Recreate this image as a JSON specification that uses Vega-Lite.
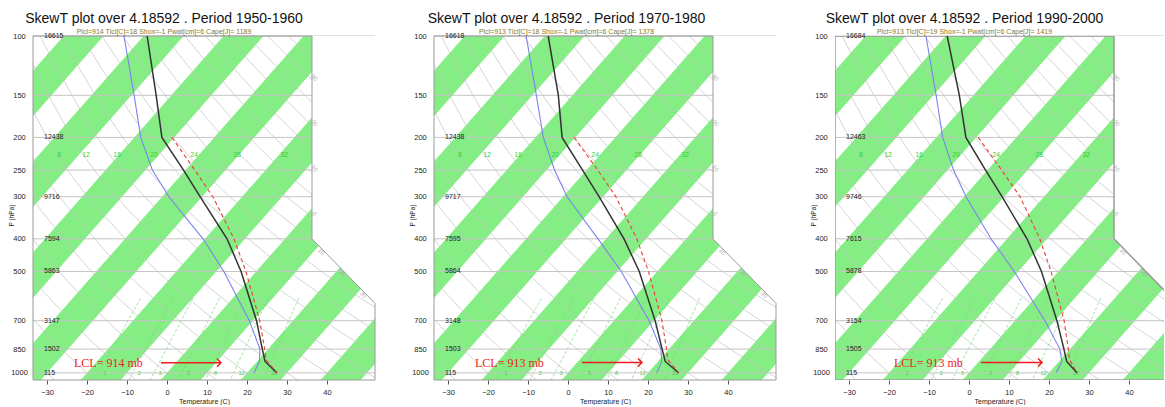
{
  "$schema": "https://vega.github.io/schema/vega-lite/v6.json",
  "autosize": {"type": "pad"},
  "padding": {"left": 8, "top": 12, "right": 0, "bottom": 0},
  "bounds": "flush",
  "spacing": 59,
  "config": {
    "font": "Liberation Sans",
    "view": {"stroke": null},
    "axisX": {"tickSize": 4, "tickColor": "#555", "labelFontSize": 7.5, "labelColor": "#222", "labelPadding": 4, "titleFontSize": 7, "titleFontWeight": "normal", "titleColor": "#222", "titlePadding": 2, "domain": false, "grid": false, "labelFlush": false},
    "axisY": {"ticks": false, "tickSize": 0, "labelAlign": "center", "labelBaseline": "middle", "labelPadding": 14, "labelFontSize": 7.5, "labelColor": "#222", "titleFontSize": 6.5, "titleFontWeight": "normal", "titleColor": "#222", "domain": false, "grid": false, "labelOverlap": false},
    "title": {"fontSize": 14, "fontWeight": "normal", "color": "#111", "anchor": "middle", "offset": -3, "subtitleFontSize": 7, "subtitleColor": "#8a7a1e", "subtitlePadding": 2, "subtitleFont": "Liberation Sans"}
  },
  "datasets": {
    "bands": [
      {"t1": -100, "t2": -90, "p": 100}, {"t1": -100, "t2": -90, "p": 1050},
      {"t1": -80, "t2": -70, "p": 100}, {"t1": -80, "t2": -70, "p": 1050},
      {"t1": -60, "t2": -50, "p": 100}, {"t1": -60, "t2": -50, "p": 1050},
      {"t1": -40, "t2": -30, "p": 100}, {"t1": -40, "t2": -30, "p": 1050},
      {"t1": -20, "t2": -10, "p": 100}, {"t1": -20, "t2": -10, "p": 1050},
      {"t1": 0, "t2": 10, "p": 100}, {"t1": 0, "t2": 10, "p": 1050},
      {"t1": 20, "t2": 30, "p": 100}, {"t1": 20, "t2": 30, "p": 1050},
      {"t1": 40, "t2": 50, "p": 100}, {"t1": 40, "t2": 50, "p": 1050}
    ],
    "dry": [
      {"th": -30, "p": 1050, "t": -26.6}, {"th": -30, "p": 700, "t": -53.6}, {"th": -30, "p": 400, "t": -86.1}, {"th": -30, "p": 200, "t": -119.7}, {"th": -30, "p": 100, "t": -147.3},
      {"th": -20, "p": 1050, "t": -16.5}, {"th": -20, "p": 700, "t": -44.6}, {"th": -20, "p": 400, "t": -78.4}, {"th": -20, "p": 200, "t": -113.4}, {"th": -20, "p": 100, "t": -142.1},
      {"th": -10, "p": 1050, "t": -6.3}, {"th": -10, "p": 700, "t": -35.5}, {"th": -10, "p": 400, "t": -70.7}, {"th": -10, "p": 200, "t": -107.1}, {"th": -10, "p": 100, "t": -136.9},
      {"th": 0, "p": 1050, "t": 3.8}, {"th": 0, "p": 700, "t": -26.5}, {"th": 0, "p": 400, "t": -63.0}, {"th": 0, "p": 200, "t": -100.8}, {"th": 0, "p": 100, "t": -131.8},
      {"th": 10, "p": 1050, "t": 14.0}, {"th": 10, "p": 700, "t": -17.5}, {"th": 10, "p": 400, "t": -55.3}, {"th": 10, "p": 200, "t": -94.5}, {"th": 10, "p": 100, "t": -126.6},
      {"th": 20, "p": 1050, "t": 24.1}, {"th": 20, "p": 700, "t": -8.4}, {"th": 20, "p": 400, "t": -47.6}, {"th": 20, "p": 200, "t": -88.1}, {"th": 20, "p": 100, "t": -121.4},
      {"th": 30, "p": 1050, "t": 34.2}, {"th": 30, "p": 700, "t": 0.6}, {"th": 30, "p": 400, "t": -39.9}, {"th": 30, "p": 200, "t": -81.8}, {"th": 30, "p": 100, "t": -116.2},
      {"th": 40, "p": 1050, "t": 44.4}, {"th": 40, "p": 700, "t": 9.6}, {"th": 40, "p": 400, "t": -32.2}, {"th": 40, "p": 200, "t": -75.5}, {"th": 40, "p": 100, "t": -111.1},
      {"th": 50, "p": 1050, "t": 54.5}, {"th": 50, "p": 700, "t": 18.7}, {"th": 50, "p": 400, "t": -24.5}, {"th": 50, "p": 200, "t": -69.2}, {"th": 50, "p": 100, "t": -105.9},
      {"th": 60, "p": 1050, "t": 64.7}, {"th": 60, "p": 700, "t": 27.7}, {"th": 60, "p": 400, "t": -16.8}, {"th": 60, "p": 200, "t": -62.9}, {"th": 60, "p": 100, "t": -100.7},
      {"th": 70, "p": 1050, "t": 74.8}, {"th": 70, "p": 700, "t": 36.7}, {"th": 70, "p": 400, "t": -9.1}, {"th": 70, "p": 200, "t": -56.6}, {"th": 70, "p": 100, "t": -95.5},
      {"th": 80, "p": 1050, "t": 84.9}, {"th": 80, "p": 700, "t": 45.7}, {"th": 80, "p": 400, "t": -1.4}, {"th": 80, "p": 200, "t": -50.3}, {"th": 80, "p": 100, "t": -90.4},
      {"th": 90, "p": 1050, "t": 95.1}, {"th": 90, "p": 700, "t": 54.8}, {"th": 90, "p": 400, "t": 6.3}, {"th": 90, "p": 200, "t": -44.0}, {"th": 90, "p": 100, "t": -85.2},
      {"th": 100, "p": 1050, "t": 105.2}, {"th": 100, "p": 700, "t": 63.8}, {"th": 100, "p": 400, "t": 14.0}, {"th": 100, "p": 200, "t": -37.7}, {"th": 100, "p": 100, "t": -80.0},
      {"th": 110, "p": 1050, "t": 115.4}, {"th": 110, "p": 700, "t": 72.8}, {"th": 110, "p": 400, "t": 21.6}, {"th": 110, "p": 200, "t": -31.3}, {"th": 110, "p": 100, "t": -74.8},
      {"th": 120, "p": 1050, "t": 125.5}, {"th": 120, "p": 700, "t": 81.9}, {"th": 120, "p": 400, "t": 29.3}, {"th": 120, "p": 200, "t": -25.0}, {"th": 120, "p": 100, "t": -69.7},
      {"th": 130, "p": 1050, "t": 135.6}, {"th": 130, "p": 700, "t": 90.9}, {"th": 130, "p": 400, "t": 37.0}, {"th": 130, "p": 200, "t": -18.7}, {"th": 130, "p": 100, "t": -64.5},
      {"th": 140, "p": 1050, "t": 145.8}, {"th": 140, "p": 700, "t": 99.9}, {"th": 140, "p": 400, "t": 44.7}, {"th": 140, "p": 200, "t": -12.4}, {"th": 140, "p": 100, "t": -59.3},
      {"th": 150, "p": 1050, "t": 155.9}, {"th": 150, "p": 700, "t": 109.0}, {"th": 150, "p": 400, "t": 52.4}, {"th": 150, "p": 200, "t": -6.1}, {"th": 150, "p": 100, "t": -54.1},
      {"th": 160, "p": 1050, "t": 166.1}, {"th": 160, "p": 700, "t": 118.0}, {"th": 160, "p": 400, "t": 60.1}, {"th": 160, "p": 200, "t": 0.2}, {"th": 160, "p": 100, "t": -49.0},
      {"th": 170, "p": 1050, "t": 176.2}, {"th": 170, "p": 700, "t": 127.0}, {"th": 170, "p": 400, "t": 67.8}, {"th": 170, "p": 200, "t": 6.5}, {"th": 170, "p": 100, "t": -43.8},
      {"th": 180, "p": 1050, "t": 186.3}, {"th": 180, "p": 700, "t": 136.0}, {"th": 180, "p": 400, "t": 75.5}, {"th": 180, "p": 200, "t": 12.8}, {"th": 180, "p": 100, "t": -38.6}
    ],
    "mix": [
      {"w": 1, "p": 1050, "t": -16.5}, {"w": 1, "p": 1000, "t": -17.1}, {"w": 1, "p": 600, "t": -23.05},
      {"w": 2, "p": 1050, "t": -7.96}, {"w": 2, "p": 1000, "t": -8.58}, {"w": 2, "p": 600, "t": -14.96},
      {"w": 3, "p": 1050, "t": -2.63}, {"w": 3, "p": 1000, "t": -3.29}, {"w": 3, "p": 600, "t": -9.95},
      {"w": 5, "p": 1050, "t": 4.41}, {"w": 5, "p": 1000, "t": 3.72}, {"w": 5, "p": 600, "t": -3.34},
      {"w": 8, "p": 1050, "t": 11.24}, {"w": 8, "p": 1000, "t": 10.51}, {"w": 8, "p": 600, "t": 3.08},
      {"w": 12, "p": 1050, "t": 17.41}, {"w": 12, "p": 1000, "t": 16.64}, {"w": 12, "p": 600, "t": 8.84},
      {"w": 20, "p": 1050, "t": 25.54}, {"w": 20, "p": 1000, "t": 24.72}, {"w": 20, "p": 600, "t": 16.45}
    ],
    "isobars": [{"p": 100}, {"p": 150}, {"p": 200}, {"p": 250}, {"p": 300}, {"p": 400}, {"p": 500}, {"p": 700}, {"p": 850}, {"p": 1000}],
    "notch": [{"xs": 36.25, "xe": 52, "p": 100}, {"xs": 36.25, "xe": 52, "p": 400}, {"xs": 52, "xe": 52, "p": 622}],
    "outline": [
      {"o": 0, "xs": -33.5, "p": 1050}, {"o": 1, "xs": -33.5, "p": 100}, {"o": 2, "xs": 36.25, "p": 100}, {"o": 3, "xs": 36.25, "p": 400},
      {"o": 4, "xs": 52, "p": 622}, {"o": 5, "xs": 52, "p": 1050}, {"o": 6, "xs": -33.5, "p": 1050}
    ],
    "moistlab": [
      {"lab": "8", "t": -75, "p": 225}, {"lab": "12", "t": -68.25, "p": 225}, {"lab": "16", "t": -60.5, "p": 225}, {"lab": "20", "t": -51.25, "p": 225},
      {"lab": "24", "t": -41.25, "p": 225}, {"lab": "28", "t": -30.5, "p": 225}, {"lab": "32", "t": -18.75, "p": 225}
    ],
    "isolab": [
      {"lab": "30", "t": -30, "p": 127.8}, {"lab": "20", "t": -20, "p": 174.3}, {"lab": "10", "t": -10, "p": 237.8}, {"lab": "0", "t": 0, "p": 324.4},
      {"lab": "10", "t": 10, "p": 419.6}, {"lab": "20", "t": 20, "p": 486}, {"lab": "30", "t": 30, "p": 563.4}
    ],
    "hgt": [
      {"pn": 1, "p": 100, "h": "16615"}, {"pn": 1, "p": 200, "h": "12438"}, {"pn": 1, "p": 300, "h": "9716"}, {"pn": 1, "p": 400, "h": "7594"},
      {"pn": 1, "p": 500, "h": "5863"}, {"pn": 1, "p": 700, "h": "3147"}, {"pn": 1, "p": 850, "h": "1502"}, {"pn": 1, "p": 1000, "h": "115"},
      {"pn": 2, "p": 100, "h": "16618"}, {"pn": 2, "p": 200, "h": "12438"}, {"pn": 2, "p": 300, "h": "9717"}, {"pn": 2, "p": 400, "h": "7595"},
      {"pn": 2, "p": 500, "h": "5864"}, {"pn": 2, "p": 700, "h": "3148"}, {"pn": 2, "p": 850, "h": "1503"}, {"pn": 2, "p": 1000, "h": "115"},
      {"pn": 3, "p": 100, "h": "16684"}, {"pn": 3, "p": 200, "h": "12463"}, {"pn": 3, "p": 300, "h": "9746"}, {"pn": 3, "p": 400, "h": "7615"},
      {"pn": 3, "p": 500, "h": "5878"}, {"pn": 3, "p": 700, "h": "3154"}, {"pn": 3, "p": 850, "h": "1505"}, {"pn": 3, "p": 1000, "h": "115"}
    ],
    "lcl": [
      {"pn": 1, "p": 914, "lab": "LCL= 914 mb"},
      {"pn": 2, "p": 913, "lab": "LCL= 913 mb"},
      {"pn": 3, "p": 913, "lab": "LCL= 913 mb"}
    ],
    "snd": [
      {"pn": 1, "k": "T", "p": 100, "t": -79.1}, {"pn": 1, "k": "T", "p": 150, "t": -63.8}, {"pn": 1, "k": "T", "p": 200, "t": -53.1}, {"pn": 1, "k": "T", "p": 250, "t": -40.5},
      {"pn": 1, "k": "T", "p": 300, "t": -30.5}, {"pn": 1, "k": "T", "p": 400, "t": -14.5}, {"pn": 1, "k": "T", "p": 500, "t": -3.8}, {"pn": 1, "k": "T", "p": 700, "t": 10.9},
      {"pn": 1, "k": "T", "p": 850, "t": 18.6}, {"pn": 1, "k": "T", "p": 925, "t": 22.0}, {"pn": 1, "k": "T", "p": 1000, "t": 27.5},
      {"pn": 1, "k": "Td", "p": 100, "t": -84.9}, {"pn": 1, "k": "Td", "p": 150, "t": -69.3}, {"pn": 1, "k": "Td", "p": 200, "t": -58.4}, {"pn": 1, "k": "Td", "p": 250, "t": -48.3},
      {"pn": 1, "k": "Td", "p": 300, "t": -38.3}, {"pn": 1, "k": "Td", "p": 400, "t": -20.5}, {"pn": 1, "k": "Td", "p": 500, "t": -8.1}, {"pn": 1, "k": "Td", "p": 700, "t": 9.1},
      {"pn": 1, "k": "Td", "p": 850, "t": 18.0}, {"pn": 1, "k": "Td", "p": 925, "t": 20.6}, {"pn": 1, "k": "Td", "p": 1000, "t": 21.75},
      {"pn": 1, "k": "Tp", "p": 1000, "t": 27.5}, {"pn": 1, "k": "Tp", "p": 914, "t": 21.85}, {"pn": 1, "k": "Tp", "p": 850, "t": 19.2}, {"pn": 1, "k": "Tp", "p": 700, "t": 11.7},
      {"pn": 1, "k": "Tp", "p": 500, "t": -2.6}, {"pn": 1, "k": "Tp", "p": 400, "t": -12.75}, {"pn": 1, "k": "Tp", "p": 300, "t": -27.3}, {"pn": 1, "k": "Tp", "p": 250, "t": -37.7},
      {"pn": 1, "k": "Tp", "p": 200, "t": -50.6},
      {"pn": 2, "k": "T", "p": 100, "t": -79.1}, {"pn": 2, "k": "T", "p": 150, "t": -63.5}, {"pn": 2, "k": "T", "p": 200, "t": -53.3}, {"pn": 2, "k": "T", "p": 250, "t": -41.0},
      {"pn": 2, "k": "T", "p": 300, "t": -31.0}, {"pn": 2, "k": "T", "p": 400, "t": -15.5}, {"pn": 2, "k": "T", "p": 500, "t": -4.5}, {"pn": 2, "k": "T", "p": 700, "t": 10.3},
      {"pn": 2, "k": "T", "p": 850, "t": 18.3}, {"pn": 2, "k": "T", "p": 925, "t": 21.8}, {"pn": 2, "k": "T", "p": 1000, "t": 27.7},
      {"pn": 2, "k": "Td", "p": 100, "t": -84.6}, {"pn": 2, "k": "Td", "p": 150, "t": -69.0}, {"pn": 2, "k": "Td", "p": 200, "t": -58.0}, {"pn": 2, "k": "Td", "p": 250, "t": -48.0},
      {"pn": 2, "k": "Td", "p": 300, "t": -39.0}, {"pn": 2, "k": "Td", "p": 400, "t": -22.0}, {"pn": 2, "k": "Td", "p": 500, "t": -9.0}, {"pn": 2, "k": "Td", "p": 700, "t": 8.8},
      {"pn": 2, "k": "Td", "p": 850, "t": 18.0}, {"pn": 2, "k": "Td", "p": 925, "t": 20.9}, {"pn": 2, "k": "Td", "p": 1000, "t": 22.2},
      {"pn": 2, "k": "Tp", "p": 1000, "t": 27.7}, {"pn": 2, "k": "Tp", "p": 913, "t": 22.0}, {"pn": 2, "k": "Tp", "p": 850, "t": 19.4}, {"pn": 2, "k": "Tp", "p": 700, "t": 12.0},
      {"pn": 2, "k": "Tp", "p": 500, "t": -2.2}, {"pn": 2, "k": "Tp", "p": 400, "t": -12.3}, {"pn": 2, "k": "Tp", "p": 300, "t": -26.8}, {"pn": 2, "k": "Tp", "p": 250, "t": -37.2},
      {"pn": 2, "k": "Tp", "p": 200, "t": -50.3},
      {"pn": 3, "k": "T", "p": 100, "t": -79.6}, {"pn": 3, "k": "T", "p": 150, "t": -63.5}, {"pn": 3, "k": "T", "p": 200, "t": -52.6}, {"pn": 3, "k": "T", "p": 250, "t": -40.5},
      {"pn": 3, "k": "T", "p": 300, "t": -30.5}, {"pn": 3, "k": "T", "p": 400, "t": -15.0}, {"pn": 3, "k": "T", "p": 500, "t": -4.2}, {"pn": 3, "k": "T", "p": 700, "t": 10.5},
      {"pn": 3, "k": "T", "p": 850, "t": 18.5}, {"pn": 3, "k": "T", "p": 925, "t": 21.9}, {"pn": 3, "k": "T", "p": 1000, "t": 27.0},
      {"pn": 3, "k": "Td", "p": 100, "t": -84.9}, {"pn": 3, "k": "Td", "p": 150, "t": -69.3}, {"pn": 3, "k": "Td", "p": 200, "t": -58.4}, {"pn": 3, "k": "Td", "p": 250, "t": -48.5},
      {"pn": 3, "k": "Td", "p": 300, "t": -39.5}, {"pn": 3, "k": "Td", "p": 400, "t": -24.0}, {"pn": 3, "k": "Td", "p": 500, "t": -11.0}, {"pn": 3, "k": "Td", "p": 700, "t": 7.5},
      {"pn": 3, "k": "Td", "p": 850, "t": 17.5}, {"pn": 3, "k": "Td", "p": 925, "t": 20.7}, {"pn": 3, "k": "Td", "p": 1000, "t": 21.8},
      {"pn": 3, "k": "Tp", "p": 1000, "t": 27.0}, {"pn": 3, "k": "Tp", "p": 913, "t": 22.2}, {"pn": 3, "k": "Tp", "p": 850, "t": 19.6}, {"pn": 3, "k": "Tp", "p": 700, "t": 12.3},
      {"pn": 3, "k": "Tp", "p": 500, "t": -1.8}, {"pn": 3, "k": "Tp", "p": 400, "t": -11.8}, {"pn": 3, "k": "Tp", "p": 300, "t": -26.0}, {"pn": 3, "k": "Tp", "p": 250, "t": -36.5},
      {"pn": 3, "k": "Tp", "p": 200, "t": -49.5}
    ]
  },
  "hconcat": [
    {
      "width": 342, "height": 344,
      "title": {"text": "SkewT plot over 4.18592 . Period 1950-1960", "subtitle": "Plcl=914 Tlcl[C]=18 Shox=-1 Pwat[cm]=6 Cape[J]= 1189", "dx": -40},
      "layer": [
        {"data": {"name": "bands"},
         "transform": [{"calculate": "datum.t1 + 32.2*log(1000/datum.p)", "as": "xs"}, {"calculate": "datum.t2 + 32.2*log(1000/datum.p)", "as": "xe"}],
         "mark": {"type": "area", "orient": "horizontal", "clip": true, "color": "#84ee84", "opacity": 1},
         "encoding": {
           "y": {"field": "p", "type": "quantitative", "scale": {"type": "log", "domain": [100, 1050], "reverse": true, "nice": false},
                 "axis": {"values": [100, 150, 200, 250, 300, 400, 500, 700, 850, 1000], "format": "d", "title": "P (hPa)", "titleX": -19, "titleY": 179, "titleAngle": -90, "titleAlign": "center", "titleBaseline": "bottom"}},
           "x": {"field": "xs", "type": "quantitative", "scale": {"domain": [-33.5, 52], "nice": false, "zero": false},
                 "axis": {"values": [-30, -20, -10, 0, 10, 20, 30, 40], "format": "d", "title": "Temperature (C)"}},
           "x2": {"field": "xe"},
           "detail": {"field": "t1"}}},
        {"data": {"name": "dry"}, "transform": [{"calculate": "datum.t + 32.2*log(1000/datum.p)", "as": "xs"}],
         "mark": {"type": "line", "clip": true, "color": "#c2c2c2", "strokeWidth": 0.7, "interpolate": "monotone"},
         "encoding": {"x": {"field": "xs", "type": "quantitative"}, "y": {"field": "p", "type": "quantitative"}, "detail": {"field": "th"}, "order": {"field": "p"}}},
        {"data": {"name": "mix"}, "transform": [{"calculate": "datum.t + 32.2*log(1000/datum.p)", "as": "xs"}],
         "mark": {"type": "line", "clip": true, "color": "#7ad87a", "strokeWidth": 0.7, "strokeDash": [3, 2]},
         "encoding": {"x": {"field": "xs", "type": "quantitative"}, "y": {"field": "p", "type": "quantitative"}, "detail": {"field": "w"}, "order": {"field": "p"}}},
        {"data": {"name": "isobars"}, "mark": {"type": "rule", "color": "#c4c4c4", "strokeWidth": 1},
         "encoding": {"y": {"field": "p", "type": "quantitative"}}},
        {"data": {"name": "notch"}, "mark": {"type": "area", "orient": "horizontal", "clip": true, "color": "white", "opacity": 1},
         "encoding": {"x": {"field": "xs", "type": "quantitative"}, "x2": {"field": "xe"}, "y": {"field": "p", "type": "quantitative"}}},
        {"data": {"name": "outline"}, "mark": {"type": "line", "clip": false, "color": "#9a9a9a", "strokeWidth": 1},
         "encoding": {"x": {"field": "xs", "type": "quantitative"}, "y": {"field": "p", "type": "quantitative"}, "order": {"field": "o"}}},
        {"data": {"name": "mix"}, "transform": [{"filter": "datum.p == 1000"}, {"calculate": "datum.t + 32.2*log(1000/datum.p)", "as": "xs"}],
         "mark": {"type": "text", "color": "#4ccc4c", "fontSize": 5.5, "dx": 5, "align": "left", "baseline": "middle"},
         "encoding": {"x": {"field": "xs", "type": "quantitative"}, "y": {"field": "p", "type": "quantitative"}, "text": {"field": "w"}}},
        {"data": {"name": "moistlab"}, "transform": [{"calculate": "datum.t + 32.2*log(1000/datum.p)", "as": "xs"}],
         "mark": {"type": "text", "color": "#33cc33", "fontSize": 6.5, "align": "center", "baseline": "middle"},
         "encoding": {"x": {"field": "xs", "type": "quantitative"}, "y": {"field": "p", "type": "quantitative"}, "text": {"field": "lab"}}},
        {"data": {"name": "isolab"}, "transform": [{"calculate": "datum.t + 32.2*log(1000/datum.p)", "as": "xs"}],
         "mark": {"type": "text", "color": "#a8a8a8", "fontSize": 6, "angle": 50, "dx": 6, "dy": 2, "align": "center", "baseline": "middle"},
         "encoding": {"x": {"field": "xs", "type": "quantitative"}, "y": {"field": "p", "type": "quantitative"}, "text": {"field": "lab"}}},
        {"data": {"name": "hgt"}, "transform": [{"filter": "datum.pn == 1"}],
         "mark": {"type": "text", "fontSize": 7, "color": "#222", "align": "left", "baseline": "middle"},
         "encoding": {"x": {"datum": -30.75, "type": "quantitative"}, "y": {"field": "p", "type": "quantitative"}, "text": {"field": "h"}}},
        {"data": {"name": "snd"}, "transform": [{"filter": "datum.pn == 1 && datum.k == 'Td'"}, {"calculate": "datum.t + 32.2*log(1000/datum.p)", "as": "xs"}],
         "mark": {"type": "line", "color": "#7d82ee", "strokeWidth": 1.1},
         "encoding": {"x": {"field": "xs", "type": "quantitative"}, "y": {"field": "p", "type": "quantitative"}, "order": {"field": "p"}}},
        {"data": {"name": "snd"}, "transform": [{"filter": "datum.pn == 1 && datum.k == 'T'"}, {"calculate": "datum.t + 32.2*log(1000/datum.p)", "as": "xs"}],
         "mark": {"type": "line", "color": "#333333", "strokeWidth": 1.5},
         "encoding": {"x": {"field": "xs", "type": "quantitative"}, "y": {"field": "p", "type": "quantitative"}, "order": {"field": "p"}}},
        {"data": {"name": "snd"}, "transform": [{"filter": "datum.pn == 1 && datum.k == 'Tp'"}, {"calculate": "datum.t + 32.2*log(1000/datum.p)", "as": "xs"}],
         "mark": {"type": "line", "color": "#e8413a", "strokeWidth": 1.1, "strokeDash": [4, 3]},
         "encoding": {"x": {"field": "xs", "type": "quantitative"}, "y": {"field": "p", "type": "quantitative"}, "order": {"field": "p"}}},
        {"data": {"name": "lcl"}, "transform": [{"filter": "datum.pn == 1"}],
         "mark": {"type": "text", "font": "Liberation Serif", "fontSize": 12, "color": "#ee1c1c", "align": "left", "baseline": "middle", "dy": 3},
         "encoding": {"x": {"datum": -23.25, "type": "quantitative"}, "y": {"field": "p", "type": "quantitative"}, "text": {"field": "lab"}}},
        {"data": {"name": "lcl"}, "transform": [{"filter": "datum.pn == 1"}],
         "mark": {"type": "rule", "color": "#ee1c1c", "strokeWidth": 1.5, "yOffset": 3},
         "encoding": {"x": {"datum": -1.5, "type": "quantitative"}, "x2": {"datum": 13.5}, "y": {"field": "p", "type": "quantitative"}}},
        {"data": {"name": "lcl"}, "transform": [{"filter": "datum.pn == 1"}],
         "mark": {"type": "point", "shape": "M -1 -1 L 0 0 L -1 1", "size": 64, "filled": false, "opacity": 1, "color": "#ee1c1c", "strokeWidth": 1.5, "yOffset": 3},
         "encoding": {"x": {"datum": 13.5, "type": "quantitative"}, "y": {"field": "p", "type": "quantitative"}}}
      ]
    },
    {
      "width": 342, "height": 344,
      "title": {"text": "SkewT plot over 4.18592 . Period 1970-1980", "subtitle": "Plcl=913 Tlcl[C]=18 Shox=-1 Pwat[cm]=6 Cape[J]= 1378", "dx": -38.5},
      "layer": [
        {"data": {"name": "bands"},
         "transform": [{"calculate": "datum.t1 + 32.2*log(1000/datum.p)", "as": "xs"}, {"calculate": "datum.t2 + 32.2*log(1000/datum.p)", "as": "xe"}],
         "mark": {"type": "area", "orient": "horizontal", "clip": true, "color": "#84ee84", "opacity": 1},
         "encoding": {
           "y": {"field": "p", "type": "quantitative", "scale": {"type": "log", "domain": [100, 1050], "reverse": true, "nice": false},
                 "axis": {"values": [100, 150, 200, 250, 300, 400, 500, 700, 850, 1000], "format": "d", "title": "P (hPa)", "titleX": -19, "titleY": 179, "titleAngle": -90, "titleAlign": "center", "titleBaseline": "bottom"}},
           "x": {"field": "xs", "type": "quantitative", "scale": {"domain": [-33.5, 52], "nice": false, "zero": false},
                 "axis": {"values": [-30, -20, -10, 0, 10, 20, 30, 40], "format": "d", "title": "Temperature (C)"}},
           "x2": {"field": "xe"},
           "detail": {"field": "t1"}}},
        {"data": {"name": "dry"}, "transform": [{"calculate": "datum.t + 32.2*log(1000/datum.p)", "as": "xs"}],
         "mark": {"type": "line", "clip": true, "color": "#c2c2c2", "strokeWidth": 0.7, "interpolate": "monotone"},
         "encoding": {"x": {"field": "xs", "type": "quantitative"}, "y": {"field": "p", "type": "quantitative"}, "detail": {"field": "th"}, "order": {"field": "p"}}},
        {"data": {"name": "mix"}, "transform": [{"calculate": "datum.t + 32.2*log(1000/datum.p)", "as": "xs"}],
         "mark": {"type": "line", "clip": true, "color": "#7ad87a", "strokeWidth": 0.7, "strokeDash": [3, 2]},
         "encoding": {"x": {"field": "xs", "type": "quantitative"}, "y": {"field": "p", "type": "quantitative"}, "detail": {"field": "w"}, "order": {"field": "p"}}},
        {"data": {"name": "isobars"}, "mark": {"type": "rule", "color": "#c4c4c4", "strokeWidth": 1},
         "encoding": {"y": {"field": "p", "type": "quantitative"}}},
        {"data": {"name": "notch"}, "mark": {"type": "area", "orient": "horizontal", "clip": true, "color": "white", "opacity": 1},
         "encoding": {"x": {"field": "xs", "type": "quantitative"}, "x2": {"field": "xe"}, "y": {"field": "p", "type": "quantitative"}}},
        {"data": {"name": "outline"}, "mark": {"type": "line", "clip": false, "color": "#9a9a9a", "strokeWidth": 1},
         "encoding": {"x": {"field": "xs", "type": "quantitative"}, "y": {"field": "p", "type": "quantitative"}, "order": {"field": "o"}}},
        {"data": {"name": "mix"}, "transform": [{"filter": "datum.p == 1000"}, {"calculate": "datum.t + 32.2*log(1000/datum.p)", "as": "xs"}],
         "mark": {"type": "text", "color": "#4ccc4c", "fontSize": 5.5, "dx": 5, "align": "left", "baseline": "middle"},
         "encoding": {"x": {"field": "xs", "type": "quantitative"}, "y": {"field": "p", "type": "quantitative"}, "text": {"field": "w"}}},
        {"data": {"name": "moistlab"}, "transform": [{"calculate": "datum.t + 32.2*log(1000/datum.p)", "as": "xs"}],
         "mark": {"type": "text", "color": "#33cc33", "fontSize": 6.5, "align": "center", "baseline": "middle"},
         "encoding": {"x": {"field": "xs", "type": "quantitative"}, "y": {"field": "p", "type": "quantitative"}, "text": {"field": "lab"}}},
        {"data": {"name": "isolab"}, "transform": [{"calculate": "datum.t + 32.2*log(1000/datum.p)", "as": "xs"}],
         "mark": {"type": "text", "color": "#a8a8a8", "fontSize": 6, "angle": 50, "dx": 6, "dy": 2, "align": "center", "baseline": "middle"},
         "encoding": {"x": {"field": "xs", "type": "quantitative"}, "y": {"field": "p", "type": "quantitative"}, "text": {"field": "lab"}}},
        {"data": {"name": "hgt"}, "transform": [{"filter": "datum.pn == 2"}],
         "mark": {"type": "text", "fontSize": 7, "color": "#222", "align": "left", "baseline": "middle"},
         "encoding": {"x": {"datum": -30.75, "type": "quantitative"}, "y": {"field": "p", "type": "quantitative"}, "text": {"field": "h"}}},
        {"data": {"name": "snd"}, "transform": [{"filter": "datum.pn == 2 && datum.k == 'Td'"}, {"calculate": "datum.t + 32.2*log(1000/datum.p)", "as": "xs"}],
         "mark": {"type": "line", "color": "#7d82ee", "strokeWidth": 1.1},
         "encoding": {"x": {"field": "xs", "type": "quantitative"}, "y": {"field": "p", "type": "quantitative"}, "order": {"field": "p"}}},
        {"data": {"name": "snd"}, "transform": [{"filter": "datum.pn == 2 && datum.k == 'T'"}, {"calculate": "datum.t + 32.2*log(1000/datum.p)", "as": "xs"}],
         "mark": {"type": "line", "color": "#333333", "strokeWidth": 1.5},
         "encoding": {"x": {"field": "xs", "type": "quantitative"}, "y": {"field": "p", "type": "quantitative"}, "order": {"field": "p"}}},
        {"data": {"name": "snd"}, "transform": [{"filter": "datum.pn == 2 && datum.k == 'Tp'"}, {"calculate": "datum.t + 32.2*log(1000/datum.p)", "as": "xs"}],
         "mark": {"type": "line", "color": "#e8413a", "strokeWidth": 1.1, "strokeDash": [4, 3]},
         "encoding": {"x": {"field": "xs", "type": "quantitative"}, "y": {"field": "p", "type": "quantitative"}, "order": {"field": "p"}}},
        {"data": {"name": "lcl"}, "transform": [{"filter": "datum.pn == 2"}],
         "mark": {"type": "text", "font": "Liberation Serif", "fontSize": 12, "color": "#ee1c1c", "align": "left", "baseline": "middle", "dy": 3},
         "encoding": {"x": {"datum": -23.25, "type": "quantitative"}, "y": {"field": "p", "type": "quantitative"}, "text": {"field": "lab"}}},
        {"data": {"name": "lcl"}, "transform": [{"filter": "datum.pn == 2"}],
         "mark": {"type": "rule", "color": "#ee1c1c", "strokeWidth": 1.5, "yOffset": 3},
         "encoding": {"x": {"datum": 3.5, "type": "quantitative"}, "x2": {"datum": 18.5}, "y": {"field": "p", "type": "quantitative"}}},
        {"data": {"name": "lcl"}, "transform": [{"filter": "datum.pn == 2"}],
         "mark": {"type": "point", "shape": "M -1 -1 L 0 0 L -1 1", "size": 64, "filled": false, "opacity": 1, "color": "#ee1c1c", "strokeWidth": 1.5, "yOffset": 3},
         "encoding": {"x": {"datum": 18.5, "type": "quantitative"}, "y": {"field": "p", "type": "quantitative"}}}
      ]
    },
    {
      "width": 329, "height": 344,
      "title": {"text": "SkewT plot over 4.18592 . Period 1990-2000", "subtitle": "Plcl=913 Tlcl[C]=19 Shox=-1 Pwat[cm]=6 Cape[J]= 1419", "dx": -35},
      "layer": [
        {"data": {"name": "bands"},
         "transform": [{"calculate": "datum.t1 + 32.2*log(1000/datum.p)", "as": "xs"}, {"calculate": "datum.t2 + 32.2*log(1000/datum.p)", "as": "xe"}],
         "mark": {"type": "area", "orient": "horizontal", "clip": true, "color": "#84ee84", "opacity": 1},
         "encoding": {
           "y": {"field": "p", "type": "quantitative", "scale": {"type": "log", "domain": [100, 1050], "reverse": true, "nice": false},
                 "axis": {"values": [100, 150, 200, 250, 300, 400, 500, 700, 850, 1000], "format": "d", "title": "P (hPa)", "titleX": -19, "titleY": 179, "titleAngle": -90, "titleAlign": "center", "titleBaseline": "bottom"}},
           "x": {"field": "xs", "type": "quantitative", "scale": {"domain": [-33.5, 48.75], "nice": false, "zero": false},
                 "axis": {"values": [-30, -20, -10, 0, 10, 20, 30, 40], "format": "d", "title": "Temperature (C)"}},
           "x2": {"field": "xe"},
           "detail": {"field": "t1"}}},
        {"data": {"name": "dry"}, "transform": [{"calculate": "datum.t + 32.2*log(1000/datum.p)", "as": "xs"}],
         "mark": {"type": "line", "clip": true, "color": "#c2c2c2", "strokeWidth": 0.7, "interpolate": "monotone"},
         "encoding": {"x": {"field": "xs", "type": "quantitative"}, "y": {"field": "p", "type": "quantitative"}, "detail": {"field": "th"}, "order": {"field": "p"}}},
        {"data": {"name": "mix"}, "transform": [{"calculate": "datum.t + 32.2*log(1000/datum.p)", "as": "xs"}],
         "mark": {"type": "line", "clip": true, "color": "#7ad87a", "strokeWidth": 0.7, "strokeDash": [3, 2]},
         "encoding": {"x": {"field": "xs", "type": "quantitative"}, "y": {"field": "p", "type": "quantitative"}, "detail": {"field": "w"}, "order": {"field": "p"}}},
        {"data": {"name": "isobars"}, "mark": {"type": "rule", "color": "#c4c4c4", "strokeWidth": 1},
         "encoding": {"y": {"field": "p", "type": "quantitative"}}},
        {"data": {"name": "notch"}, "mark": {"type": "area", "orient": "horizontal", "clip": true, "color": "white", "opacity": 1},
         "encoding": {"x": {"field": "xs", "type": "quantitative"}, "x2": {"field": "xe"}, "y": {"field": "p", "type": "quantitative"}}},
        {"data": {"name": "outline"}, "mark": {"type": "line", "clip": true, "color": "#9a9a9a", "strokeWidth": 1.5},
         "encoding": {"x": {"field": "xs", "type": "quantitative"}, "y": {"field": "p", "type": "quantitative"}, "order": {"field": "o"}}},
        {"data": {"name": "mix"}, "transform": [{"filter": "datum.p == 1000"}, {"calculate": "datum.t + 32.2*log(1000/datum.p)", "as": "xs"}],
         "mark": {"type": "text", "color": "#4ccc4c", "fontSize": 5.5, "dx": 5, "align": "left", "baseline": "middle"},
         "encoding": {"x": {"field": "xs", "type": "quantitative"}, "y": {"field": "p", "type": "quantitative"}, "text": {"field": "w"}}},
        {"data": {"name": "moistlab"}, "transform": [{"calculate": "datum.t + 32.2*log(1000/datum.p)", "as": "xs"}],
         "mark": {"type": "text", "color": "#33cc33", "fontSize": 6.5, "align": "center", "baseline": "middle"},
         "encoding": {"x": {"field": "xs", "type": "quantitative"}, "y": {"field": "p", "type": "quantitative"}, "text": {"field": "lab"}}},
        {"data": {"name": "isolab"}, "transform": [{"calculate": "datum.t + 32.2*log(1000/datum.p)", "as": "xs"}, {"filter": "datum.xs < 46"}],
         "mark": {"type": "text", "color": "#a8a8a8", "fontSize": 6, "angle": 50, "dx": 6, "dy": 2, "align": "center", "baseline": "middle"},
         "encoding": {"x": {"field": "xs", "type": "quantitative"}, "y": {"field": "p", "type": "quantitative"}, "text": {"field": "lab"}}},
        {"data": {"name": "hgt"}, "transform": [{"filter": "datum.pn == 3"}],
         "mark": {"type": "text", "fontSize": 7, "color": "#222", "align": "left", "baseline": "middle"},
         "encoding": {"x": {"datum": -30.75, "type": "quantitative"}, "y": {"field": "p", "type": "quantitative"}, "text": {"field": "h"}}},
        {"data": {"name": "snd"}, "transform": [{"filter": "datum.pn == 3 && datum.k == 'Td'"}, {"calculate": "datum.t + 32.2*log(1000/datum.p)", "as": "xs"}],
         "mark": {"type": "line", "color": "#7d82ee", "strokeWidth": 1.1},
         "encoding": {"x": {"field": "xs", "type": "quantitative"}, "y": {"field": "p", "type": "quantitative"}, "order": {"field": "p"}}},
        {"data": {"name": "snd"}, "transform": [{"filter": "datum.pn == 3 && datum.k == 'T'"}, {"calculate": "datum.t + 32.2*log(1000/datum.p)", "as": "xs"}],
         "mark": {"type": "line", "color": "#333333", "strokeWidth": 1.5},
         "encoding": {"x": {"field": "xs", "type": "quantitative"}, "y": {"field": "p", "type": "quantitative"}, "order": {"field": "p"}}},
        {"data": {"name": "snd"}, "transform": [{"filter": "datum.pn == 3 && datum.k == 'Tp'"}, {"calculate": "datum.t + 32.2*log(1000/datum.p)", "as": "xs"}],
         "mark": {"type": "line", "color": "#e8413a", "strokeWidth": 1.1, "strokeDash": [4, 3]},
         "encoding": {"x": {"field": "xs", "type": "quantitative"}, "y": {"field": "p", "type": "quantitative"}, "order": {"field": "p"}}},
        {"data": {"name": "lcl"}, "transform": [{"filter": "datum.pn == 3"}],
         "mark": {"type": "text", "font": "Liberation Serif", "fontSize": 12, "color": "#ee1c1c", "align": "left", "baseline": "middle", "dy": 3},
         "encoding": {"x": {"datum": -18.75, "type": "quantitative"}, "y": {"field": "p", "type": "quantitative"}, "text": {"field": "lab"}}},
        {"data": {"name": "lcl"}, "transform": [{"filter": "datum.pn == 3"}],
         "mark": {"type": "rule", "color": "#ee1c1c", "strokeWidth": 1.5, "yOffset": 3},
         "encoding": {"x": {"datum": 3, "type": "quantitative"}, "x2": {"datum": 18.25}, "y": {"field": "p", "type": "quantitative"}}},
        {"data": {"name": "lcl"}, "transform": [{"filter": "datum.pn == 3"}],
         "mark": {"type": "point", "shape": "M -1 -1 L 0 0 L -1 1", "size": 64, "filled": false, "opacity": 1, "color": "#ee1c1c", "strokeWidth": 1.5, "yOffset": 3},
         "encoding": {"x": {"datum": 18.25, "type": "quantitative"}, "y": {"field": "p", "type": "quantitative"}}}
      ]
    }
  ]
}
